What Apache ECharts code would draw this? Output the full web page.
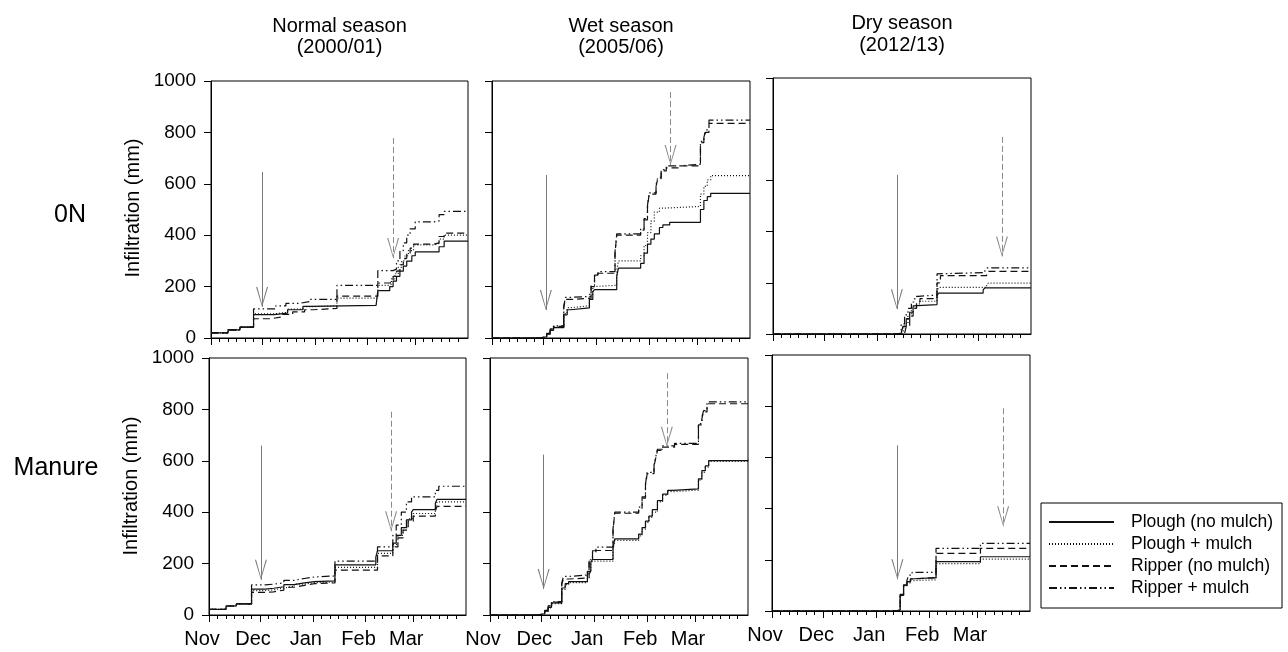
<!DOCTYPE html>
<html>
<head>
<meta charset="utf-8">
<script src="https://cdn.jsdelivr.net/npm/echarts@6/dist/echarts.min.js"></script>
<style>html,body{margin:0;padding:0;background:#fff}#c{width:1288px;height:652px}</style>
</head>
<body>
<div id="c"></div>
<script>
const FONT = '"Liberation Sans", Arial, Helvetica, sans-serif';

// ---- categories / labels ----
const seriesNames = ['Plough (no mulch)', 'Plough + mulch', 'Ripper (no mulch)', 'Ripper + mulch'];
const seasonTitles = ['Normal season', 'Wet season', 'Dry season'];
const seasonYears = ['(2000/01)', '(2005/06)', '(2012/13)'];
const rowNames = ['0N', 'Manure'];
const yAxisName = 'Infiltration (mm)';
// x axis: days since 1 Nov
const monthTicks = [0, 30, 61, 92, 120];
const monthLabels = ['Nov', 'Dec', 'Jan', 'Feb', 'Mar'];
const minorTicks = [5, 10, 15, 20, 25, 35, 40, 45, 50, 55, 66, 71, 76, 81, 86, 97, 102, 107, 112, 117, 125, 130, 135, 140, 145];
const yTicks = [0, 200, 400, 600, 800, 1000];

// ---- series values: [day, cumulative infiltration mm] ----
// Normal season, 0N
const normal_0N_plough = [[0,20],[10,32],[17,42],[25,91],[37,97],[45,110],[54,123],[58,127],[97,127],[98,184],[103,184],[105,200],[107,221],[109,240],[111,260],[113,280],[115,299],[118,320],[120,335],[132,335],[134,355],[137,377],[151,377]];
const normal_0N_ploughMulch = [[0,20],[10,32],[17,42],[25,94],[37,100],[45,112],[54,122],[60,125],[74,155],[98,205],[104,210],[106,230],[108,250],[110,275],[112,300],[114,320],[116,340],[119,362],[131,368],[134,385],[137,400],[151,400]];
const normal_0N_ripper = [[0,20],[10,32],[17,42],[25,75],[35,82],[42,92],[48,102],[55,110],[60,115],[74,163],[98,214],[105,218],[107,240],[109,260],[111,285],[113,310],[115,330],[117,350],[119,365],[131,370],[134,395],[137,408],[151,408]];
const normal_0N_ripperMulch = [[0,20],[10,32],[17,42],[25,113],[38,125],[44,135],[52,142],[58,150],[74,205],[98,262],[107,268],[109,300],[111,340],[113,370],[115,400],[117,425],[120,452],[131,455],[134,480],[137,493],[151,493]];
// Wet season, 0N
const wet_0N_plough = [[0,0],[28,5],[32,15],[34,30],[36,40],[42,90],[44,110],[46,117],[57,150],[59,180],[60,188],[73,240],[74,272],[87,290],[89,330],[91,365],[93,385],[95,405],[98,430],[100,440],[104,450],[122,500],[124,535],[126,550],[128,563],[151,563]];
const wet_0N_ploughMulch = [[0,0],[28,5],[32,15],[34,30],[36,42],[42,95],[44,118],[46,125],[57,170],[59,200],[60,205],[73,260],[74,300],[87,320],[89,360],[91,410],[93,455],[95,490],[98,505],[100,512],[122,560],[124,590],[126,615],[128,632],[151,632]];
const wet_0N_ripper = [[0,0],[28,5],[32,18],[34,35],[36,45],[42,120],[43,150],[46,155],[58,200],[60,240],[62,252],[72,330],[73,400],[87,420],[89,460],[91,510],[92,560],[96,590],[97,620],[99,650],[102,662],[110,670],[122,760],[124,775],[125,800],[127,835],[151,835]];
const wet_0N_ripperMulch = [[0,0],[28,5],[32,18],[34,35],[36,47],[42,125],[43,158],[46,162],[58,205],[60,245],[62,258],[72,335],[73,405],[87,425],[89,465],[91,515],[92,565],[96,595],[97,625],[99,655],[102,670],[110,676],[122,765],[124,780],[125,810],[127,848],[151,848]];
// Dry season, 0N
const dry_0N_plough = [[0,0],[71,2],[75,5],[76,30],[78,60],[80,85],[82,110],[83,115],[96,150],[97,160],[123,172],[124,180],[151,180]];
const dry_0N_ploughMulch = [[0,0],[71,2],[76,3],[77,40],[79,75],[81,100],[84,118],[86,128],[96,170],[97,182],[125,190],[126,199],[151,199]];
const dry_0N_ripper = [[0,0],[71,2],[77,3],[78,30],[80,70],[82,100],[84,125],[86,138],[96,200],[98,228],[125,236],[126,245],[151,245]];
const dry_0N_ripperMulch = [[0,0],[71,2],[73,3],[75,40],[77,75],[79,100],[81,125],[83,147],[85,152],[96,235],[97,240],[124,250],[125,258],[151,258]];
// Normal season, Manure
const normal_M_plough = [[0,22],[10,35],[16,43],[25,101],[33,104],[38,110],[44,118],[50,125],[56,130],[62,133],[74,195],[98,225],[99,250],[108,280],[110,310],[113,340],[116,370],[119,400],[120,410],[133,435],[134,450],[151,450]];
const normal_M_ploughMulch = [[0,22],[10,35],[16,43],[25,95],[33,98],[38,105],[44,112],[50,120],[56,126],[62,128],[74,185],[99,240],[108,275],[111,310],[114,340],[117,375],[120,395],[133,420],[134,440],[151,440]];
const normal_M_ripper = [[0,22],[10,35],[16,43],[25,88],[33,90],[38,97],[44,108],[50,115],[56,122],[62,125],[74,175],[99,230],[108,265],[111,300],[114,330],[117,365],[120,385],[133,405],[134,423],[151,423]];
const normal_M_ripperMulch = [[0,22],[10,35],[16,43],[25,117],[33,120],[38,125],[44,135],[50,142],[56,148],[62,152],[74,210],[99,265],[108,310],[110,350],[113,400],[116,440],[119,460],[133,485],[135,501],[151,501]];
// Wet season, Manure
const wet_M_plough = [[0,0],[28,5],[32,15],[34,30],[36,47],[42,105],[44,122],[46,130],[57,170],[59,205],[60,216],[72,260],[73,296],[87,315],[89,340],[91,365],[93,385],[95,410],[98,445],[101,470],[104,485],[107,491],[122,530],[124,562],[126,580],[128,601],[151,604]];
const wet_M_ploughMulch = [[0,0],[28,5],[32,14],[34,28],[36,44],[42,100],[44,118],[46,126],[57,165],[59,200],[60,210],[72,255],[73,290],[87,308],[89,334],[91,360],[93,380],[95,400],[98,440],[101,465],[104,480],[107,486],[122,525],[124,555],[126,575],[128,598],[151,600]];
const wet_M_ripper = [[0,0],[28,5],[32,18],[34,35],[36,50],[42,120],[43,140],[46,144],[58,210],[60,240],[62,251],[72,330],[73,396],[87,415],[89,455],[91,505],[92,550],[96,580],[97,610],[98,640],[101,653],[108,664],[122,740],[124,764],[125,790],[127,822],[151,822]];
const wet_M_ripperMulch = [[0,0],[28,5],[32,18],[34,36],[36,52],[42,125],[43,150],[46,156],[58,215],[60,250],[62,264],[72,335],[73,400],[87,420],[89,460],[91,510],[92,555],[96,585],[97,615],[98,645],[101,658],[108,668],[122,745],[124,770],[125,795],[127,829],[151,829]];
// Dry season, Manure
const dry_M_plough = [[0,0],[70,2],[73,3],[75,62],[77,101],[79,115],[81,125],[82,130],[96,193],[122,212],[151,212]];
const dry_M_ploughMulch = [[0,0],[70,2],[73,3],[75,60],[77,98],[79,110],[81,118],[82,122],[96,185],[122,203],[151,203]];
const dry_M_ripper = [[0,0],[70,2],[73,3],[75,62],[77,101],[79,115],[81,125],[82,130],[96,225],[122,245],[151,245]];
const dry_M_ripperMulch = [[0,0],[70,2],[73,3],[75,65],[77,105],[79,120],[80,140],[82,151],[96,245],[122,264],[151,264]];

// arrows: [day, start value, tip value]
const arrowsSolid = [[30,646,121],[31.5,634,109],[72.5,622,97],[30.5,659,137],[31.4,624,101],[73.4,647,124]];
const arrowsDashed = [[107,778,311],[104.5,957,673],[134,770,303],[107,791,326],[103.5,941,655],[135.3,792,331]];

// ---- layout (styles / positions) ----
const panelData = [
  [normal_0N_plough, normal_0N_ploughMulch, normal_0N_ripper, normal_0N_ripperMulch],
  [wet_0N_plough, wet_0N_ploughMulch, wet_0N_ripper, wet_0N_ripperMulch],
  [dry_0N_plough, dry_0N_ploughMulch, dry_0N_ripper, dry_0N_ripperMulch],
  [normal_M_plough, normal_M_ploughMulch, normal_M_ripper, normal_M_ripperMulch],
  [wet_M_plough, wet_M_ploughMulch, wet_M_ripper, wet_M_ripperMulch],
  [dry_M_plough, dry_M_ploughMulch, dry_M_ripper, dry_M_ripperMulch]
];
const panelLayouts = [
  {left:211, top:81, width:257, height:257},
  {left:492, top:81, width:258, height:257},
  {left:773, top:78, width:258, height:256},
  {left:209, top:358, width:257, height:257},
  {left:490, top:358, width:258, height:257},
  {left:772, top:355, width:258, height:256}
];
const dashTypes = ['solid', [1, 2], [7, 4], [8, 3, 1.5, 3, 1.5, 3]];
const CHEVRON = 'path://M6,0L12,20L10.8,20L6,2.6L1.2,20L0,20Z';

const grids = [], xAxes = [], yAxes = [], series = [];
panelLayouts.forEach((L, i) => {
  const col = i % 3, row = Math.floor(i / 3);
  grids.push(Object.assign({show: true, borderColor: '#000', borderWidth: 1, backgroundColor: 'rgba(0,0,0,0)'}, L));
  xAxes.push({
    type: 'value', gridIndex: i, min: 0, max: 151, position: 'bottom',
    axisLine: {show: true, lineStyle: {color: '#000', width: 1}},
    axisTick: {show: true, length: 7, inside: false, customValues: monthTicks, lineStyle: {color: '#000', width: 1}},
    axisLabel: {show: row === 1, customValues: monthTicks, color: '#000', fontSize: 20, fontFamily: FONT,
      margin: 14, padding: [0, 14, 0, 0],
      formatter: v => { const k = monthTicks.indexOf(Math.round(v)); return k >= 0 ? monthLabels[k] : ''; }},
    splitLine: {show: false}
  });
  xAxes.push({
    type: 'value', gridIndex: i, min: 0, max: 151, position: 'bottom', offset: 0,
    axisLine: {show: false},
    axisTick: {show: true, length: 4, customValues: minorTicks, lineStyle: {color: '#000', width: 1}},
    axisLabel: {show: false}, splitLine: {show: false}
  });
  yAxes.push({
    type: 'value', gridIndex: i, min: yTicks[0], max: yTicks[yTicks.length - 1], interval: 200,
    axisLine: {show: true, lineStyle: {color: '#000', width: 1}},
    axisTick: {show: true, length: 7, lineStyle: {color: '#000', width: 1}},
    axisLabel: {show: col === 0, color: '#000', fontSize: 19, fontFamily: FONT, margin: 15,
      formatter: v => String(v)},
    splitLine: {show: false}
  });
  panelData[i].forEach((d, s) => {
    const ser = {
      name: seriesNames[s], type: 'line', xAxisIndex: 2 * i, yAxisIndex: i,
      step: 'end', symbol: 'none', showSymbol: false, data: d, z: 3,
      lineStyle: {color: '#111', width: 1.2, type: dashTypes[s]},
      itemStyle: {color: '#111', opacity: 0}
    };
    if (s === 0) {
      const a = arrowsSolid[i], b = arrowsDashed[i];
      ser.markLine = {
        silent: true, animation: false, label: {show: false}, emphasis: {disabled: true},
        symbol: ['none', 'none'],
        data: [
          [{coord: [a[0], a[1]], symbol: 'none', lineStyle: {color: '#7a7a7a', width: 1, type: 'solid'}},
           {coord: [a[0], a[2]], symbol: CHEVRON, symbolSize: [12, 20], symbolOffset: [0, '50%']}],
          [{coord: [b[0], b[1]], symbol: 'none', lineStyle: {color: '#8a8a8a', width: 1, type: [6, 3]}},
           {coord: [b[0], b[2]], symbol: CHEVRON, symbolSize: [12, 20], symbolOffset: [0, '50%']}]
        ]
      };
    }
    series.push(ser);
  });
});

const colCenters = [339.5, 621, 902];
const titleY = [[26, 47], [26, 47], [23, 45]];
const graphic = [];
function txt(x, y, text, size, rot) {
  return {type: 'text', x: x, y: y, rotation: rot || 0, silent: true,
    style: {text: text, fill: '#000', font: size + 'px ' + FONT,
      align: 'center', verticalAlign: 'middle', textAlign: 'center', textVerticalAlign: 'middle'}};
}
for (let c = 0; c < 3; c++) {
  graphic.push(txt(colCenters[c], titleY[c][0], seasonTitles[c], 20));
  graphic.push(txt(colCenters[c], titleY[c][1], seasonYears[c], 20));
}
graphic.push(txt(70, 215, rowNames[0], 25));
graphic.push(txt(56, 468, rowNames[1], 25));
graphic.push(txt(133, 208, yAxisName, 20, Math.PI / 2));
graphic.push(txt(131.5, 486, yAxisName, 20, Math.PI / 2));

const chart = echarts.init(document.getElementById('c'), null, {renderer: 'canvas'});
chart.setOption({
  animation: false,
  backgroundColor: '#fff',
  textStyle: {fontFamily: FONT},
  grid: grids, xAxis: xAxes, yAxis: yAxes, series: series, graphic: graphic,
  legend: {
    data: seriesNames, orient: 'vertical', left: 1041, top: 503,
    padding: [10, 9, 11, 7], itemGap: 4, itemWidth: 65, itemHeight: 14,
    borderColor: '#000', borderWidth: 1, backgroundColor: '#fff',
    selectedMode: false,
    itemStyle: {opacity: 0},
    textStyle: {fontSize: 17.5, color: '#000', fontFamily: FONT, lineHeight: 18, padding: [0, 0, 0, 12]}
  }
});
</script>
</body>
</html>
